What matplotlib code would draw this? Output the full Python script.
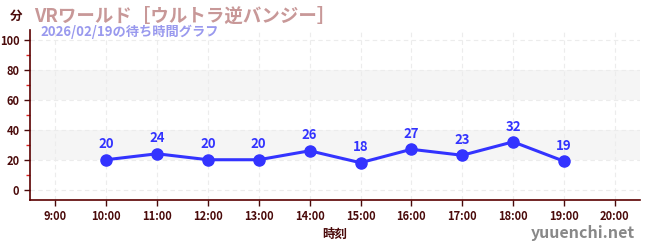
import matplotlib.pyplot as plt
from matplotlib.ticker import MultipleLocator

plt.rcParams['font.family'] = ['Noto Sans CJK JP', 'DejaVu Sans']

hours = [10, 11, 12, 13, 14, 15, 16, 17, 18, 19]
waits = [20, 24, 20, 20, 26, 18, 27, 23, 32, 19]
xticks = list(range(9, 21))
xlabels = [f"{h}:00" for h in xticks]

title = "VRワールド［ウルトラ逆バンジー］"
subtitle = "2026/02/19の待ち時間グラフ"

dark = "#4a0a0a"
blue = "#3333ff"

fig = plt.figure(figsize=(6.5, 2.5), dpi=100)
ax = fig.add_axes([0.046, 0.2, 0.939, 0.68])

ax.set_xlim(8.5, 20.5)
ax.set_ylim(-7, 107)

# bands
for lo, hi in [(20, 40), (60, 80)]:
    ax.axhspan(lo, hi, color="#f5f5f5", zorder=0, lw=0)

ax.set_xticks(xticks)
ax.set_xticklabels(xlabels)
ax.set_yticks(range(0, 101, 20))
ax.yaxis.set_minor_locator(MultipleLocator(10))
ax.grid(True, which="major", color="#ececec", ls=(0, (4, 3)), lw=0.8, zorder=0)

ax.tick_params(axis="both", which="major", labelsize=8, colors=dark, length=4, width=1)
ax.tick_params(axis="y", which="minor", color="#dd2222", length=3, width=1)
for lab in ax.get_xticklabels() + ax.get_yticklabels():
    lab.set_fontweight("bold")
    lab.set_color(dark)

for s in ["top", "right"]:
    ax.spines[s].set_visible(False)
for s in ["left", "bottom"]:
    ax.spines[s].set_color("#5a0000")
    ax.spines[s].set_linewidth(1.2)

ax.plot(hours, waits, color=blue, lw=2.2, marker="o", ms=8, zorder=3)
for h, w in zip(hours, waits):
    ax.annotate(str(w), (h, w), xytext=(0, 6), textcoords="offset points",
                ha="center", va="bottom", color=blue, fontsize=9.5, fontweight="bold")

ax.set_xlabel("時刻", fontsize=9, fontweight="bold", color=dark, labelpad=3)

fig.text(0.015, 0.935, "分", fontsize=9, fontweight="bold", color=dark, va="center")
fig.text(0.052, 0.935, title, fontsize=13.3, fontweight="bold", color="#c89898", va="center")
fig.text(0.062, 0.872, subtitle, fontsize=9.5, fontweight="bold", color="#9999ee", va="center")
fig.text(0.977, 0.068, "yuuenchi.net", fontsize=11.5, fontweight="bold", color="#888888",
         ha="right", va="center")

fig.savefig("out.png", dpi=100)
